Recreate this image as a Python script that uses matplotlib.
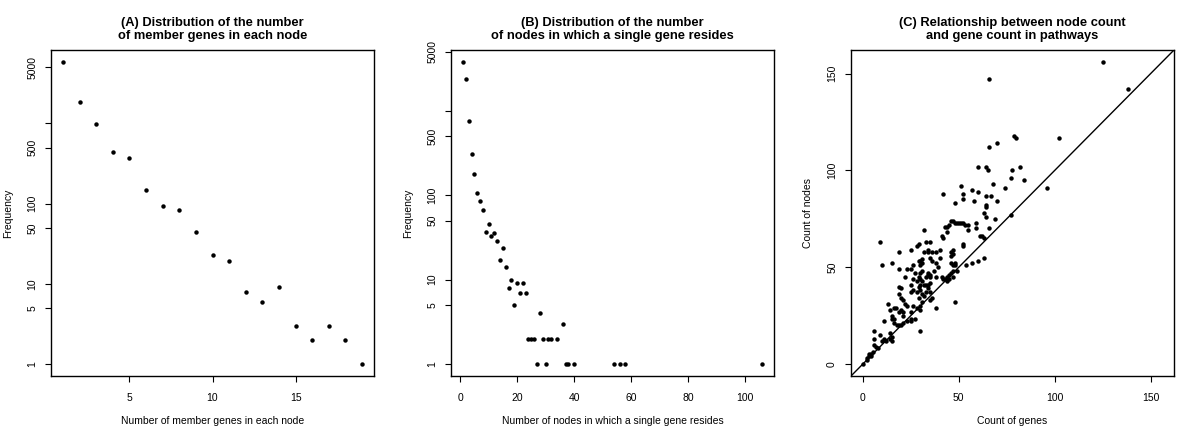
import matplotlib
matplotlib.use("Agg")
import matplotlib.pyplot as plt
from matplotlib.ticker import NullLocator

plt.rcParams['font.family'] = ['Liberation Sans', 'DejaVu Sans']

# (A) member genes per node
genes_per_node = list(range(1, 20))
freq_a = [5840, 1850, 990, 440, 370, 150, 94, 83, 44, 23, 19, 8, 6, 9, 3, 2, 3, 2, 1]

# (B) nodes per gene
nodes_per_gene = list(range(1, 24)) + [24, 25, 26, 27, 28, 29, 30, 31, 32, 34, 36,
                                       37, 38, 40, 54, 56, 58, 106]
freq_b = [3790, 2400, 750, 305, 180, 105, 85, 67, 37, 46, 33, 36, 29, 17, 24, 14, 8, 10,
          5, 9, 7, 9, 7,
          2, 2, 2, 1, 4, 2, 1, 2, 2, 2, 3, 1, 1, 1, 1, 1, 1, 1]

# (C) pathways: gene count vs node count
genes_c = [0, 2, 2, 3, 3, 4, 4, 5, 6, 7,
           8, 6, 6, 9, 10, 11, 12, 14, 15, 15,
           14, 11, 13, 14, 15, 15, 16, 16, 17, 16,
           18, 19, 20, 21, 19, 20, 21, 22, 23, 21,
           19, 20, 21, 23, 25, 25, 27, 26, 28, 25,
           19, 20, 19, 19, 15, 10, 9, 22, 23, 25,
           25, 28, 29, 26, 27, 26, 25, 26, 25, 28,
           30, 31, 32, 33, 34, 35, 35, 36, 29, 31,
           30, 30, 30, 38, 28, 29, 29, 30, 30, 31,
           32, 33, 34, 35, 29, 30, 31, 30, 31, 30,
           31, 32, 34, 36, 38, 34, 33, 35, 32, 35,
           36, 34, 35, 34, 35, 33, 37, 38, 39, 40,
           40, 38, 41, 42, 43, 44, 44, 45, 45, 46,
           47, 47, 46, 47, 46, 46, 47, 47, 48, 48,
           49, 48, 41, 42, 44, 43, 44, 45, 46, 47,
           48, 49, 50, 51, 52, 53, 55, 42, 48, 51,
           52, 52, 52, 52, 54, 55, 57, 57, 58, 59,
           59, 60, 60, 60, 61, 62, 63, 63, 63, 64,
           64, 64, 64, 64, 65, 66, 66, 66, 67, 68,
           69, 70, 70, 74, 77, 77, 78, 79, 80, 82,
           84, 96, 102, 125, 138]
nodes_c = [0, 2, 3, 4, 5, 5, 4, 6, 10, 9,
           8, 13, 17, 15, 12, 13, 12, 13, 12, 14,
           16, 22, 31, 28, 25, 23, 23, 29, 29, 21,
           20, 20, 20, 21, 36, 34, 33, 31, 30, 27,
           27, 28, 25, 22, 22, 23, 23, 30, 29, 27,
           40, 39, 49, 58, 52, 51, 63, 45, 49, 49,
           59, 61, 62, 51, 47, 44, 41, 38, 37, 37,
           38, 36, 35, 37, 39, 37, 33, 34, 34, 32,
           30, 28, 17, 29, 43, 45, 40, 41, 44, 43,
           41, 41, 41, 42, 53, 53, 54, 51, 52, 47,
           48, 58, 58, 58, 58, 59, 63, 63, 69, 55,
           53, 46, 46, 47, 45, 45, 48, 52, 50, 55,
           59, 45, 45, 44, 44, 45, 43, 44, 46, 47,
           45, 48, 52, 51, 56, 58, 59, 57, 51, 52,
           48, 32, 66, 65, 68, 71, 71, 72, 74, 74,
           73, 73, 73, 73, 73, 72, 72, 88, 83, 92,
           88, 85, 61, 62, 51, 69, 52, 90, 84, 70,
           73, 53, 89, 102, 66, 66, 65, 55, 78, 76,
           81, 82, 87, 102, 100, 70, 112, 147, 87, 93,
           75, 84, 114, 91, 96, 77, 100, 118, 117, 102,
           95, 91, 117, 156, 142]

log_ticks = [1, 5, 10, 50, 100, 500, 1000, 5000]
log_labels = ['1', '5', '10', '50', '100', '500', '', '5000']

FS = 7.5
TITLE_FS = 9.3


def r_range(lo, hi, log=False):
    import math
    if log:
        lo, hi = math.log10(lo), math.log10(hi)
        d = (hi - lo) * 0.04
        return 10 ** (lo - d), 10 ** (hi + d)
    d = (hi - lo) * 0.04
    return lo - d, hi + d


def style(ax, title, xlabel, ylabel):
    ax.set_title(title, fontsize=TITLE_FS, fontweight='bold', pad=8, linespacing=1.15)
    ax.set_xlabel(xlabel, fontsize=FS, va='center')
    ax.set_ylabel(ylabel, fontsize=FS, va='center')
    ax.xaxis.set_label_coords(0.5, -0.137)
    ax.yaxis.set_label_coords(-0.133, 0.5)
    ax.tick_params(axis='both', direction='out', length=4, width=0.8, labelsize=FS,
                   color='black')
    ax.tick_params(axis='x', pad=8)
    ax.tick_params(axis='y', pad=6)
    for lbl in ax.get_yticklabels():
        lbl.set_rotation(90)
        lbl.set_va('center')
    for s in ax.spines.values():
        s.set_linewidth(1.0)


fig = plt.figure(figsize=(12, 4.4), dpi=100)
W, H = 1200, 440
lefts = [51, 451, 851]
axes = [fig.add_axes([l / W, 1 - 376 / H, 323 / W, 326 / H]) for l in lefts]

# A
ax = axes[0]
ax.plot(genes_per_node, freq_a, 'o', color='black', ms=3.2, mew=0)
ax.set_yscale('log')
ax.set_xlim(*r_range(min(genes_per_node), max(genes_per_node)))
ax.set_ylim(*r_range(min(freq_a), max(freq_a), log=True))
ax.set_xticks([5, 10, 15])
ax.set_yticks(log_ticks)
ax.set_yticklabels(log_labels)
ax.yaxis.set_minor_locator(NullLocator())
style(ax, '(A) Distribution of the number\nof member genes in each node',
      'Number of member genes in each node', 'Frequency')

# B
ax = axes[1]
ax.plot(nodes_per_gene, freq_b, 'o', color='black', ms=3.2, mew=0)
ax.set_yscale('log')
ax.set_xlim(*r_range(min(nodes_per_gene), max(nodes_per_gene)))
ax.set_ylim(*r_range(min(freq_b), max(freq_b), log=True))
ax.set_xticks([0, 20, 40, 60, 80, 100])
ax.set_yticks(log_ticks)
ax.set_yticklabels(log_labels)
ax.yaxis.set_minor_locator(NullLocator())
style(ax, '(B) Distribution of the number\nof nodes in which a single gene resides',
      'Number of nodes in which a single gene resides', 'Frequency')

# C
ax = axes[2]
ax.plot(genes_c, nodes_c, 'o', color='black', ms=3.2, mew=0)
top = max(max(genes_c), max(nodes_c))
lim = r_range(0, top)
ax.set_xlim(*lim)
ax.set_ylim(*lim)
ax.axline((0, 0), slope=1, color='black', lw=1.0)
ax.set_xticks([0, 50, 100, 150])
ax.set_yticks([0, 50, 100, 150])
style(ax, '(C) Relationship between node count\nand gene count in pathways',
      'Count of genes', 'Count of nodes')

fig.savefig('out.png', dpi=100)
